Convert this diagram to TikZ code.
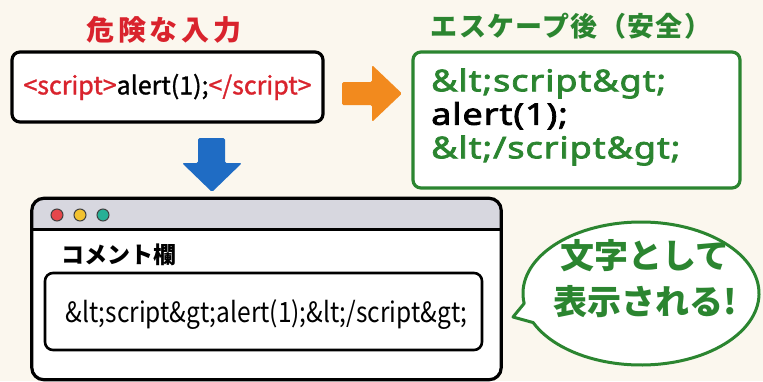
\documentclass[tikz,border=0pt]{standalone}
\usepackage{fontspec}
\setmainfont{Noto Sans CJK JP}
\newfontfamily\codefont{Noto Sans}[FakeBold=2.5, FakeStretch=1.2, LetterSpace=3]
\newfontfamily\narrowfont{Noto Sans CJK JP}[FakeStretch=0.875]
\newfontfamily\rawfont{Noto Sans CJK JP}[FakeBold=1.2]
\usetikzlibrary{calc}
\definecolor{bgcream}{HTML}{FBF7EE}
\definecolor{dangerred}{HTML}{D9232D}
\definecolor{safegreen}{HTML}{2B8530}
\definecolor{arroworange}{HTML}{F28A1E}
\definecolor{arrowblue}{HTML}{1F6CC4}
\definecolor{bargray}{HTML}{D7D7DF}
\definecolor{dotred}{HTML}{E5474B}
\definecolor{dotyellow}{HTML}{F2C230}
\definecolor{dotgreen}{HTML}{27B096}
\tikzset{
  heading/.style={inner sep=0pt},
  codebox/.style={rounded corners=8pt, line width=3.2pt, fill=white, inner sep=0pt},
  bigarrow/.style={rounded corners=1.5pt},
  dot/.style={draw=black!75, line width=1pt},
}
\begin{document}
\begin{tikzpicture}[x=1pt,y=-1pt]
\useasboundingbox[fill=bgcream] (0,0) rectangle (763,381);

% headings
\node[heading, text=dangerred, font=\bfseries\fontsize{28}{32}\selectfont\addfontfeature{LetterSpace=14}] (h1) at (164,30) {危険な入力};
\node[heading, text=safegreen, font=\bfseries\fontsize{27}{32}\selectfont\addfontfeature{LetterSpace=5}] (h2) at (571,26) {エスケープ後（安全）};

% dangerous input
\node[codebox, draw=black, minimum width=311pt, minimum height=70pt,
      font=\rawfont\fontsize{25}{28}\selectfont] (raw) at (167.5,87)
  {\textcolor{dangerred}{<script>}alert(1);\textcolor{dangerred}{</script>}};

% escaped output
\node[codebox, draw=safegreen, minimum width=327pt, minimum height=136pt] (esc) at (576.5,120) {};
\node[anchor=west, inner sep=0pt, font=\codefont\fontsize{30}{33.5}\selectfont, align=left] (esctext) at (431,117)
  {\textcolor{safegreen}{\&lt;script\&gt;}\\ alert(1);\\ \textcolor{safegreen}{\&lt;/script\&gt;}};

% orange arrow to the right
\fill[arroworange, bigarrow] (342,82) -- (372,82) -- (372,65) -- (402,93.5) -- (372,122) -- (372,105) -- (342,105) -- cycle;

% blue arrow downward
\fill[arrowblue, bigarrow] (198,138) -- (225,138) -- (225,163) -- (242,163) -- (212,192) -- (182,163) -- (198,163) -- cycle;

% browser window
\node[rounded corners=12pt, fill=white, minimum width=469pt, minimum height=181pt, inner sep=0pt] (win) at (266.5,289) {};
\begin{scope}
  \clip[rounded corners=12pt] (win.north west) rectangle (win.south east);
  \fill[bargray] (win.north west) rectangle ($(win.north east)+(0,31)$);
\end{scope}
\draw[line width=2.6pt] ($(win.north west)+(0,31)$) -- ($(win.north east)+(0,31)$);
\draw[rounded corners=12pt, line width=3.2pt] (win.north west) rectangle (win.south east);
\filldraw[dotred, dot] (57,215) circle[radius=6];
\filldraw[dotyellow, dot] (80,215) circle[radius=6];
\filldraw[dotgreen, dot] (103,215) circle[radius=6];

\node[anchor=west, inner sep=0pt, font=\bfseries\fontsize{23}{26}\selectfont] (lbl) at (61,255) {コメント欄};
\node[codebox, line width=2.6pt, draw=black, minimum width=437pt, minimum height=77pt,
      font=\narrowfont\fontsize{28}{30}\selectfont, text depth=0pt] (shown) at (263.5,311.5)
  {\hspace*{6pt}\&lt;script\&gt;alert(1);\&lt;/script\&gt;};

% speech bubble
\coordinate (bc) at (641,293.5);
\coordinate (tail) at (513,317);
\draw[safegreen, fill=white, line width=3pt, line join=round]
  ([shift={(172:118 and 71.5)}]bc) arc[start angle=172, end angle=516, x radius=118, y radius=71.5] -- (tail) -- cycle;
\node[text=safegreen, font=\bfseries\fontsize{34}{46}\selectfont, align=center, inner sep=0pt] (say) at (645,279)
  {文字として\\表示される!};
\end{tikzpicture}
\end{document}
